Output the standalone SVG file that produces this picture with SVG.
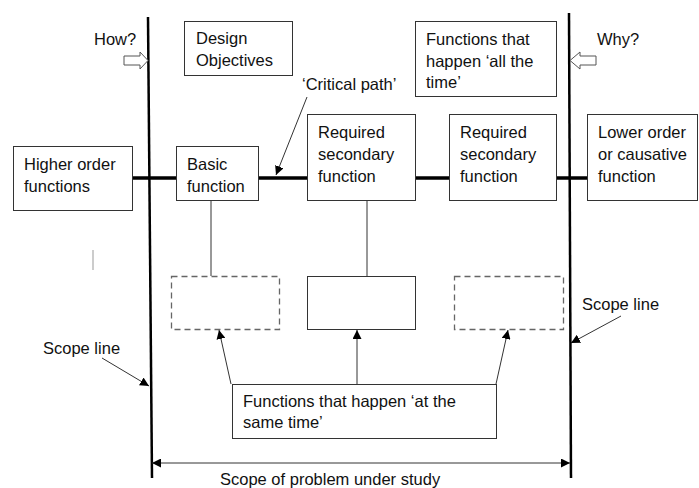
<svg xmlns="http://www.w3.org/2000/svg" width="699" height="488" viewBox="0 0 699 488">
<defs>
<style>
text{font-family:"Liberation Sans",Arial,sans-serif;font-size:16.5px;fill:#111}
.box{fill:#fff;stroke:#333;stroke-width:1}
.dash{fill:#fff;stroke:#666;stroke-width:1.3;stroke-dasharray:6,4}
.thin{stroke:#333;stroke-width:1;fill:none}
.thick{stroke:#000;stroke-width:3.5;fill:none}
.scope{stroke:#000;stroke-width:2.5;fill:none}
.hollow{fill:#fff;stroke:#555;stroke-width:1}
</style>
<marker id="ah" viewBox="0 0 10 10" refX="10" refY="5" markerWidth="9" markerHeight="9" markerUnits="userSpaceOnUse" orient="auto">
<path d="M0,0 L10,5 L0,10 z" fill="#000"/>
</marker>
<marker id="ahs" viewBox="0 0 10 10" refX="0" refY="5" markerWidth="9" markerHeight="9" markerUnits="userSpaceOnUse" orient="auto">
<path d="M10,0 L0,5 L10,10 z" fill="#000"/>
</marker>
</defs>
<g id="connectors">
<line class="scope" x1="148" y1="17" x2="152" y2="478"/>
<line class="scope" x1="569" y1="13" x2="571" y2="478"/>
<line class="thick" x1="132" y1="178" x2="176" y2="178"/>
<line class="thick" x1="258" y1="178" x2="307" y2="178"/>
<line class="thick" x1="415" y1="178" x2="449" y2="178"/>
<line class="thick" x1="556" y1="178" x2="587" y2="178"/>
<line class="thin" x1="211" y1="200" x2="211" y2="276"/>
<line class="thin" x1="367" y1="200" x2="367" y2="276"/>
<line class="thin" x1="307" y1="97" x2="276" y2="175" marker-end="url(#ah)"/>
<line class="thin" x1="231" y1="384" x2="219" y2="330" marker-end="url(#ah)"/>
<line class="thin" x1="357" y1="384" x2="357" y2="330" marker-end="url(#ah)"/>
<line class="thin" x1="496" y1="384" x2="508" y2="330" marker-end="url(#ah)"/>
<line class="thin" x1="102" y1="358" x2="149" y2="386" marker-end="url(#ah)"/>
<line class="thin" x1="621" y1="316" x2="571" y2="343" marker-end="url(#ah)"/>
<line class="thin" x1="152" y1="463" x2="570" y2="463" marker-start="url(#ahs)" marker-end="url(#ah)"/>
<line x1="93" y1="250" x2="93" y2="270" stroke="#999" stroke-width="1"/>
<path class="hollow" d="M124,56 L140,56 L140,52 L148,60.5 L140,69 L140,65 L124,65 z"/>
<path class="hollow" d="M596,56 L580,56 L580,52 L570,60.5 L580,69 L580,65 L596,65 z"/>
</g>
<g id="how"><text x="94" y="45">How?</text></g>
<g id="why"><text x="597" y="45">Why?</text></g>
<g id="design-objectives">
<rect class="box" x="184.5" y="21.5" width="108" height="54"/>
<text x="196" y="44">Design</text>
<text x="196" y="66">Objectives</text>
</g>
<g id="all-the-time">
<rect class="box" x="415.5" y="21.5" width="141" height="75"/>
<text x="426" y="45">Functions that</text>
<text x="426" y="67">happen ‘all the</text>
<text x="426" y="88">time’</text>
</g>
<g id="critical-path"><text x="302" y="90">‘Critical path’</text></g>
<g id="higher-order">
<rect class="box" x="13.5" y="146.5" width="119" height="64"/>
<text x="24" y="170">Higher order</text>
<text x="24" y="192">functions</text>
</g>
<g id="basic-function">
<rect class="box" x="176.5" y="146.5" width="82" height="54"/>
<text x="187" y="170">Basic</text>
<text x="187" y="192">function</text>
</g>
<g id="required-1">
<rect class="box" x="307.5" y="114.5" width="108" height="86"/>
<text x="318" y="138">Required</text>
<text x="318" y="160">secondary</text>
<text x="318" y="182">function</text>
</g>
<g id="required-2">
<rect class="box" x="449.5" y="114.5" width="107" height="86"/>
<text x="460" y="138">Required</text>
<text x="460" y="160">secondary</text>
<text x="460" y="182">function</text>
</g>
<g id="lower-order">
<rect class="box" x="587.5" y="114.5" width="110" height="86"/>
<text x="598" y="138">Lower order</text>
<text x="598" y="160">or causative</text>
<text x="598" y="182">function</text>
</g>
<g id="dashed-1"><rect class="dash" x="171.5" y="276.5" width="108" height="53"/></g>
<g id="solid-mid"><rect class="box" x="307.5" y="276.5" width="108" height="53"/></g>
<g id="dashed-3"><rect class="dash" x="454.5" y="276.5" width="109" height="53"/></g>
<g id="same-time">
<rect class="box" x="232.5" y="384.5" width="264" height="54"/>
<text x="243" y="407">Functions that happen ‘at the</text>
<text x="243" y="428">same time’</text>
</g>
<g id="scope-left"><text x="43" y="354">Scope line</text></g>
<g id="scope-right"><text x="582" y="310">Scope line</text></g>
<g id="scope-problem"><text x="220" y="485">Scope of problem under study</text></g>
</svg>
